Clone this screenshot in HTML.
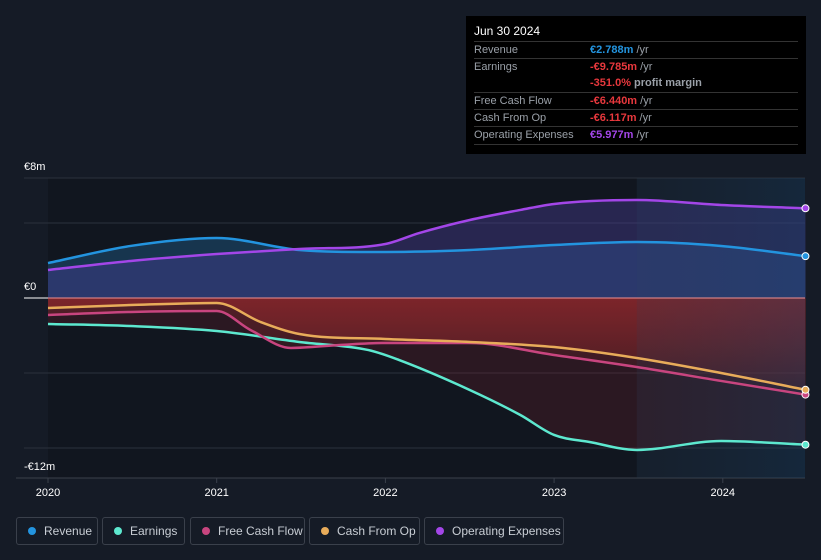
<!DOCTYPE html>
<html><head><meta charset="utf-8"><style>
body{margin:0;background:#151b26;font-family:"Liberation Sans",sans-serif;}
#wrap{position:relative;width:821px;height:560px;overflow:hidden;background:#151b26;}
.tt{position:absolute;left:466px;top:16px;width:340px;height:138px;background:#000;color:#fff;font-size:11px;}
.tt .h{position:absolute;left:8px;top:8px;font-size:12px;}
.row{position:absolute;left:8px;width:324px;border-top:1px solid #333;height:17px;line-height:17px;color:#9aa0a8;}
.row span.v{position:absolute;left:116px;font-weight:bold;}
.row span.u{color:#9aa0a8;font-weight:normal;}
.leg{position:absolute;top:517px;height:28px;border:1px solid #3a404b;border-radius:3px;box-sizing:border-box;color:#c8cdd4;font-size:12px;line-height:26px;padding-left:27px;}
.leg i{position:absolute;left:11px;top:9px;width:8px;height:8px;border-radius:50%;}
</style></head><body>
<div id="wrap">
<svg id="chart" width="821" height="560" style="position:absolute;left:0;top:0"></svg>
<div class="tt">
<div class="h">Jun 30 2024</div>
<div class="row" style="top:25px">Revenue<span class="v" style="color:#2394df">€2.788m <span class="u">/yr</span></span></div>
<div class="row" style="top:42px">Earnings<span class="v" style="color:#e8383d">-€9.785m <span class="u">/yr</span></span></div>
<div class="row" style="top:59px;border-top:none"><span class="v" style="color:#e8383d">-351.0% <span class="u" style="font-weight:bold">profit margin</span></span></div>
<div class="row" style="top:76px">Free Cash Flow<span class="v" style="color:#e8383d">-€6.440m <span class="u">/yr</span></span></div>
<div class="row" style="top:93px">Cash From Op<span class="v" style="color:#e8383d">-€6.117m <span class="u">/yr</span></span></div>
<div class="row" style="top:110px;border-bottom:1px solid #333">Operating Expenses<span class="v" style="color:#a346e8">€5.977m <span class="u">/yr</span></span></div>
</div>
<div class="leg" style="left:16px;width:82px"><i style="background:#2394df"></i>Revenue</div>
<div class="leg" style="left:102px;width:83px"><i style="background:#5de8cf"></i>Earnings</div>
<div class="leg" style="left:190px;width:115px"><i style="background:#c8457f"></i>Free Cash Flow</div>
<div class="leg" style="left:309px;width:111px"><i style="background:#e8ac5a"></i>Cash From Op</div>
<div class="leg" style="left:424px;width:140px"><i style="background:#a346e8"></i>Operating Expenses</div>
</div>
<script>
const yTicks=[8,0,-12];
const yTickLabels=["€8m","€0","-€12m"];
const gridVals=[8,5,0,-5,-10];
const xTicks=[2020,2021,2022,2023,2024];
const revX=[2020,2020.49,2021,2021.49,2022,2022.5,2023,2023.49,2023.99,2024.49];
const revY=[2.33,3.47,4.0,3.2,3.07,3.2,3.53,3.73,3.47,2.79];
const opxX=[2020,2020.49,2021,2021.49,2022,2022.2,2022.5,2022.8,2023,2023.49,2023.99,2024.49];
const opxY=[1.87,2.47,2.93,3.27,3.6,4.33,5.2,5.87,6.27,6.53,6.2,5.98];
const earnX=[2020,2020.49,2021,2021.49,2021.9,2022.08,2022.5,2022.8,2023,2023.21,2023.49,2023.99,2024.49];
const earnY=[-1.73,-1.87,-2.2,-2.93,-3.47,-4.13,-6.13,-7.8,-9.13,-9.6,-10.13,-9.53,-9.78];
const fcfX=[2020,2020.49,2021,2021.2,2021.44,2021.73,2022,2022.5,2023,2023.49,2023.99,2024.49];
const fcfY=[-1.13,-0.93,-0.87,-2.13,-3.33,-3.13,-3.0,-3.0,-3.8,-4.6,-5.53,-6.44];
const cfoX=[2020,2020.49,2021,2021.26,2021.49,2022,2022.5,2023,2023.49,2023.99,2024.49];
const cfoY=[-0.67,-0.47,-0.33,-1.6,-2.4,-2.73,-2.93,-3.27,-4.0,-5.0,-6.12];
const forecastStart=2023.49;

const NS="http://www.w3.org/2000/svg";
const svg=document.getElementById('chart');
const X0=48,X1=805;
const xs=v=>48+(v-2020)*168.7;
const ys=v=>298-v*15;
function mk(t,a){const e=document.createElementNS(NS,t);for(const k in a)e.setAttribute(k,a[k]);svg.appendChild(e);return e;}
function curve(X,Y){
 const p=X.map((x,i)=>[xs(x),ys(Y[i])]);const n=p.length;const d=[],m=[];
 for(let i=0;i<n-1;i++)d.push((p[i+1][1]-p[i][1])/(p[i+1][0]-p[i][0]));
 for(let i=0;i<n;i++){if(i==0)m.push(d[0]);else if(i==n-1)m.push(d[n-2]);else m.push(d[i-1]*d[i]<=0?0:(d[i-1]+d[i])/2);}
 let s=`M${p[0][0]},${p[0][1]}`;
 for(let i=0;i<n-1;i++){const h=(p[i+1][0]-p[i][0])/3;s+=` C${p[i][0]+h},${p[i][1]+m[i]*h} ${p[i+1][0]-h},${p[i+1][1]-m[i+1]*h} ${p[i+1][0]},${p[i+1][1]}`;}
 return s;}
const defs=mk('defs',{});
defs.innerHTML='<linearGradient id="rg" x1="0" y1="0" x2="0" y2="1"><stop offset="0" stop-color="#b8302f" stop-opacity="0.8"/><stop offset="1" stop-color="#b8302f" stop-opacity="0.15"/></linearGradient>'+
'<linearGradient id="fg" x1="0" y1="0" x2="1" y2="0"><stop offset="0" stop-color="#1f3a52" stop-opacity="0.15"/><stop offset="1" stop-color="#14456e" stop-opacity="0.3"/></linearGradient>';
const bg=mk('rect',{x:X0,y:178,width:xs(forecastStart)-X0,height:300,fill:'#0e1118','fill-opacity':0.5});

gridVals.forEach(v=>{const g=mk('line',{x1:X0-24,x2:X1,y1:ys(v),y2:ys(v),stroke:'#2c323c','stroke-width':1});
});
const ax=mk('line',{x1:16,x2:X1,y1:478,y2:478,stroke:'#3a404b'});

function area(X,Y,fill,op,name){const p=curve(X,Y)+` L${xs(X[X.length-1])},${ys(0)} L${xs(X[0])},${ys(0)} Z`;
 const e=mk('path',{d:p,fill:fill,'fill-opacity':op});}
area(revX,revY,'#1f5a88',0.45,'revenue-area');
area(opxX,opxY,'#4a3f9a',0.4,'opex-area');
area(cfoX,cfoY,'url(#rg)',0.6,'cfo-area');
area(fcfX,fcfY,'url(#rg)',0.4,'fcf-area');
area(earnX,earnY,'#7a1f2a',0.25,'earnings-area');
const fr=mk('rect',{x:xs(forecastStart),y:178,width:X1-xs(forecastStart),height:300,fill:'url(#fg)'});

const z0=mk('line',{x1:X0-24,x2:X0,y1:ys(0),y2:ys(0),stroke:'#fff','stroke-width':1});

const z=mk('line',{x1:X0,x2:X1,y1:ys(0),y2:ys(0),stroke:'#f09090','stroke-width':1});

const series=[[earnX,earnY,'#5de8cf','earnings-line'],[fcfX,fcfY,'#c8457f','fcf-line'],[cfoX,cfoY,'#e8ac5a','cfo-line'],[revX,revY,'#2394df','revenue-line'],[opxX,opxY,'#a346e8','opex-line']];
series.forEach(s=>{const e=mk('path',{d:curve(s[0],s[1]),fill:'none',stroke:s[2],'stroke-width':2.5});
 
 const n=s[0].length-1;const c=mk('circle',{cx:xs(s[0][n]),cy:ys(s[1][n]),r:3.5,fill:s[2],stroke:'#fff','stroke-width':1});
 });
yTicks.forEach((v,i)=>{const t=mk('text',{x:24,y:ys(v)-8,fill:'#fff','font-size':11});t.textContent=yTickLabels[i];
 });
xTicks.forEach(v=>{const l=mk('line',{x1:xs(v),x2:xs(v),y1:478,y2:483,stroke:'#3a404b'});
 
 const t=mk('text',{x:xs(v),y:496,fill:'#fff','font-size':11,'text-anchor':'middle'});t.textContent=v;
 });
</script>
</body></html>
